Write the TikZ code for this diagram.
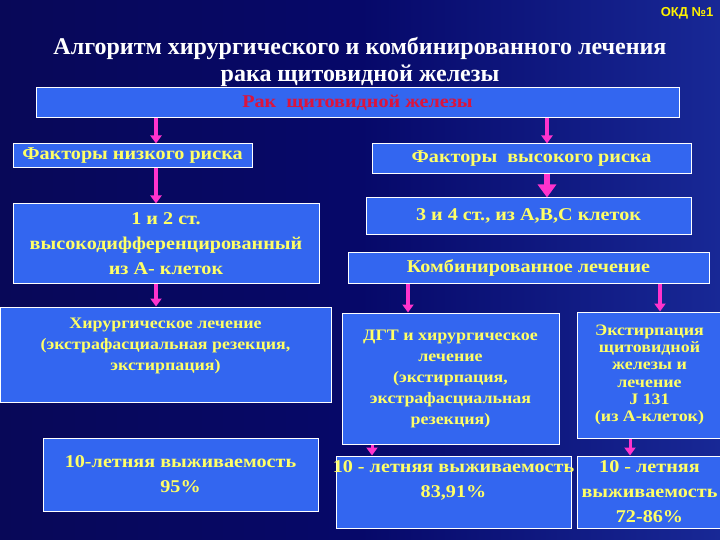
\documentclass[tikz,border=0pt]{standalone}
\usepackage{fontspec}
\setmainfont{Liberation Serif}
\setsansfont{Liberation Sans}
\newfontfamily\wideserif[FakeStretch=1.12]{Liberation Serif}
\usetikzlibrary{arrows.meta}

\definecolor{bgdark}{RGB}{8,8,88}
\definecolor{bgmid}{RGB}{6,8,105}
\definecolor{bgedge}{RGB}{24,40,150}
\definecolor{boxblue}{RGB}{51,102,240}
\definecolor{txtyellow}{RGB}{255,255,102}
\definecolor{arrpink}{RGB}{255,51,204}
\definecolor{rakred}{RGB}{220,20,60}

\begin{document}
\begin{tikzpicture}[x=1pt,y=-1pt,
	box/.style={draw=white,line width=1pt,fill=boxblue,inner sep=2pt,align=center,text=txtyellow},
	big/.style={font=\wideserif\bfseries\fontsize{18}{25}\selectfont},
	small/.style={font=\wideserif\bfseries\fontsize{16}{21}\selectfont},
	arr/.style={draw=arrpink,line width=3.5pt,-{Triangle[width=11pt,length=8pt]}},
	]
% background
\useasboundingbox (0,0) rectangle (720,540);
\shade[left color=bgdark,right color=bgedge,middle color=bgmid] (0,0) rectangle (720,540);

% title
\node[font=\bfseries\fontsize{24}{27}\selectfont,text=white,align=center] (title) at (360,62)
	{Алгоритм хирургического и комбинированного лечения\\рака щитовидной железы};
\node[font=\sffamily\bfseries\fontsize{13}{13}\selectfont,text=yellow,anchor=east] (okd) at (717,13) {ОКД №1};

% arrow columns
\coordinate (colA) at (156,0);
\coordinate (colB) at (547,0);
\coordinate (colC) at (408,0);
\coordinate (colD) at (660,0);
\coordinate (colE) at (372,0);
\coordinate (colF) at (630,0);

% boxes
\node[box,big,text=rakred,minimum width=643pt,minimum height=30pt] (rak) at (357.5,103) {Рак\ \ щитовидной железы};

\node[box,big,minimum width=239pt,minimum height=24pt] (low) at (132.5,156) {Факторы низкого риска};
\node[box,big,minimum width=319pt,minimum height=30pt] (high) at (531.5,159) {Факторы\ \ высокого риска};

\node[box,big,minimum width=306pt,minimum height=79pt] (st12) at (166,243.5)
	{1 и 2 ст.\\высокодифференцированный\\из А- клеток};
\node[box,big,minimum width=325pt,minimum height=36pt] (st34) at (528.5,216) {3 и 4 ст., из А,В,С клеток};
\node[box,big,minimum width=361pt,minimum height=31pt] (comb) at (528.5,267.5) {Комбинированное лечение};

\node[box,small,minimum width=331pt,minimum height=95pt] (surg) at (165.5,354.5)
	{Хирургическое лечение\\(экстрафасциальная резекция,\\экстирпация)\\~};
\node[box,big,minimum width=275pt,minimum height=73pt] (surv95) at (180.5,474.5)
	{10-летняя выживаемость\\95\%};

\node[box,small,minimum width=217pt,minimum height=131pt] (dgt) at (450.5,378.5)
	{ДГТ и хирургическое\\лечение\\(экстирпация,\\экстрафасциальная\\резекция)};
\node[box,font=\wideserif\bfseries\fontsize{16}{17.3}\selectfont,minimum width=145pt,minimum height=126pt] (ext) at (649.5,375)
	{Экстирпация\\щитовидной\\железы и\\лечение\\J 131\\(из А-клеток)};

\node[box,big,minimum width=235pt,minimum height=72pt] (surv83) at (453.5,492)
	{\makebox[225pt]{10 - летняя выживаемость}\\83,91\%\\~};
\node[box,big,minimum width=145pt,minimum height=72pt] (surv72) at (649.5,492)
	{10 - летняя\\выживаемость\\72-86\%};

% arrows
\draw[arr] (rak.south -| colA) -- (low.north -| colA);
\draw[arr] (rak.south -| colB) -- (high.north -| colB);
\draw[arr] (low.south -| colA) -- (st12.north -| colA);
\draw[arr,line width=6pt,-{Triangle[width=18pt,length=13pt]}] (high.south -| colB) -- (st34.north -| colB);
\draw[arr] (st12.south -| colA) -- (surg.north -| colA);
\draw[arr] (comb.south -| colC) -- (dgt.north -| colC);
\draw[arr] (comb.south -| colD) -- (ext.north -| colD);
\draw[arr,line width=3pt] (dgt.south -| colE) -- (surv83.north -| colE);
\draw[arr,line width=3pt] (ext.south -| colF) -- (surv72.north -| colF);

\end{tikzpicture}
\end{document}
